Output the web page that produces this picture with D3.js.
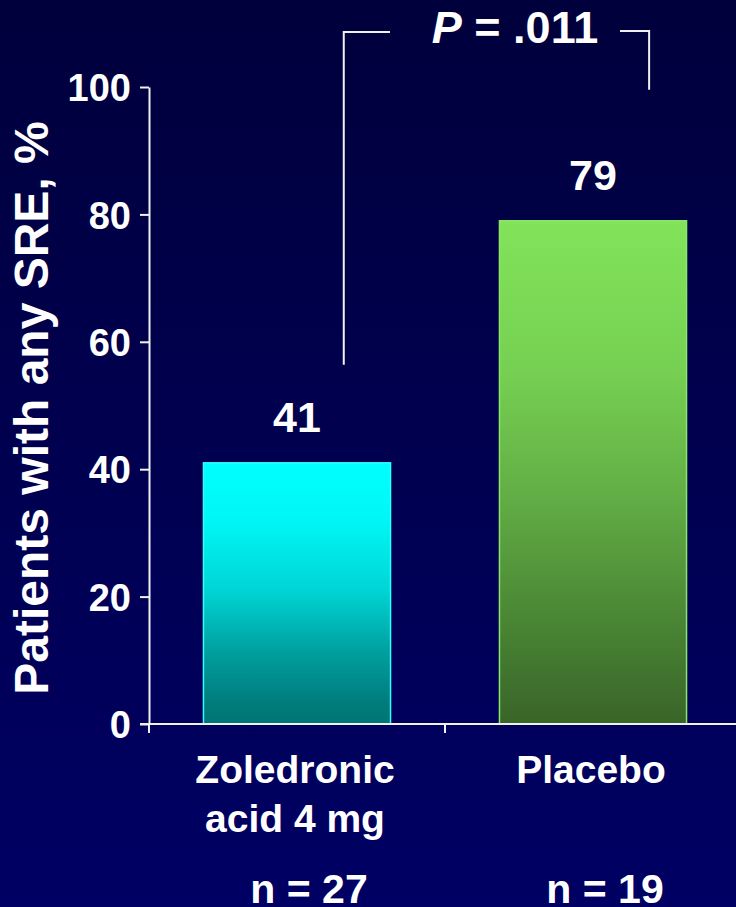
<!DOCTYPE html>
<html>
<head>
<meta charset="utf-8">
<script src="https://cdn.jsdelivr.net/npm/d3@7"></script>
<style>
html,body{margin:0;padding:0;background:#000050;}
svg{display:block;}
text{font-family:"Liberation Sans",Arial,Helvetica,sans-serif;font-weight:bold;fill:#ffffff;}
</style>
</head>
<body>
<svg id="chart" width="736" height="907"></svg>
<script>
const categories = ["Zoledronic acid 4 mg", "Placebo"];
const categoryLines = [["Zoledronic", "acid 4 mg"], ["Placebo"]];
const values = [41, 79];
const sampleSizes = ["n = 27", "n = 19"];
const yTicks = [0, 20, 40, 60, 80, 100];
const yTitle = "Patients with any SRE, %";
const pValue = ".011";

const W = 736, H = 907;
const svg = d3.select("#chart");
const defs = svg.append("defs");

const bg = defs.append("linearGradient").attr("id","bg").attr("x1",0).attr("y1",0).attr("x2",0).attr("y2",1);
bg.append("stop").attr("offset","0%").attr("stop-color","#00003c");
bg.append("stop").attr("offset","100%").attr("stop-color","#000064");
svg.append("rect").attr("width",W).attr("height",H).attr("fill","url(#bg)");

const gCyan = defs.append("linearGradient").attr("id","gc").attr("x1",0).attr("y1",0).attr("x2",0).attr("y2",1);
[["0%","#00ffff"],["22%","#00f6f6"],["48%","#00d6d6"],["72%","#00a0a0"],["92%","#007c7c"],["100%","#007474"]]
  .forEach(s=>gCyan.append("stop").attr("offset",s[0]).attr("stop-color",s[1]));
const gGreen = defs.append("linearGradient").attr("id","gg").attr("x1",0).attr("y1",0).attr("x2",0).attr("y2",1);
[["0%","#82e35a"],["30%","#76d052"],["55%","#62ad45"],["78%","#4b8835"],["100%","#396429"]]
  .forEach(s=>gGreen.append("stop").attr("offset",s[0]).attr("stop-color",s[1]));
const fills = ["url(#gc)","url(#gg)"];
const strokes = ["#30ffff","#8ae868"];

const x = d3.scaleBand().domain(categories).range([149, 741]).paddingInner(0.368).paddingOuter(0.184);
const y = d3.scaleLinear().domain([0, 100]).range([724, 87]);

// bars
svg.selectAll("rect.bar").data(values).enter().append("rect")
  .attr("class","bar")
  .attr("x",(d,i)=>x(categories[i]))
  .attr("y",d=>y(d))
  .attr("width",x.bandwidth())
  .attr("height",d=>y(0)-y(d))
  .attr("fill",(d,i)=>fills[i])
  .attr("stroke",(d,i)=>strokes[i])
  .attr("stroke-width",1.5);

// value labels
svg.selectAll("text.val").data(values).enter().append("text")
  .attr("class","val")
  .attr("x",(d,i)=>x(categories[i])+x.bandwidth()/2)
  .attr("y",d=>y(d)-31)
  .attr("text-anchor","middle")
  .attr("font-size",43)
  .text(d=>d);

// y axis
const yAxis = svg.append("g").attr("transform","translate(149,0)")
  .call(d3.axisLeft(y).tickValues(yTicks).tickSize(9).tickSizeOuter(0).tickPadding(9));
yAxis.selectAll("path,line").attr("stroke","#f0f0f0").attr("stroke-width",2);
yAxis.selectAll("text").attr("font-size",38).attr("fill","#fff")
  .attr("font-family","'Liberation Sans',Arial,sans-serif").attr("font-weight","bold").attr("dy","0.36em");

// x axis line with boundary ticks
const step = x.step();
const bounds = categories.map(c=>x(c) - step*x.paddingInner()/2).concat([x.range()[1]]);
svg.append("line").attr("x1",140).attr("x2",x.range()[1]).attr("y1",y(0)).attr("y2",y(0))
  .attr("stroke","#f0f0f0").attr("stroke-width",2);
svg.selectAll("line.xt").data(bounds).enter().append("line").attr("class","xt")
  .attr("x1",d=>d).attr("x2",d=>d).attr("y1",y(0)).attr("y2",y(0)+9)
  .attr("stroke","#f0f0f0").attr("stroke-width",2);

// category labels
categoryLines.forEach((lines,i)=>{
  const cx = x(categories[i]) + x.bandwidth()/2;
  lines.forEach((ln,j)=>{
    svg.append("text").attr("x",cx-2).attr("y",783 + j*49)
      .attr("text-anchor","middle").attr("font-size",39).text(ln);
  });
});

// n labels
sampleSizes.forEach((s,i)=>{
  const cx = x(categories[i]) + x.bandwidth()/2 + 12;
  svg.append("text").attr("x",cx).attr("y",903).attr("text-anchor","middle").attr("font-size",41).text(s);
});

// y title
svg.append("text").attr("transform","translate(48,408) rotate(-90)")
  .attr("text-anchor","middle").attr("font-size",48).text(yTitle);

// P bracket
const bx1 = x(categories[0]) + x.bandwidth()*0.75;
const bx2 = x(categories[1]) + x.bandwidth()*0.8;
const by = 31;
const bracket = svg.append("g").attr("fill","none").attr("stroke","#f0f0f0").attr("stroke-width",2);
bracket.append("path").attr("d",`M${bx1},${y(values[0])-98} V${by+1} H390`);
bracket.append("path").attr("d",`M620,${by} H${bx2} V${y(values[1]) - 131}`);
const pt = svg.append("text").attr("x",515).attr("y",43).attr("text-anchor","middle").attr("font-size",45);
pt.append("tspan").attr("font-style","italic").text("P");
pt.append("tspan").text(" = " + pValue);
</script>
</body>
</html>
